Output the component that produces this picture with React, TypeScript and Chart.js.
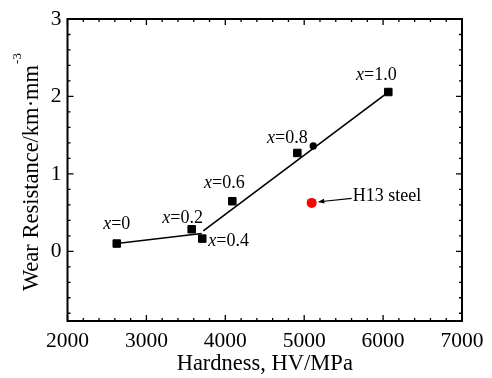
import React, { useEffect, useRef } from 'react';
import { Chart, registerables } from 'chart.js';

Chart.register(...registerables);

// ---- data ----
const compositionLabels = ['0', '0.2', '0.4', '0.6', '0.8', '1.0'];
const hardness = [2624, 3574, 3708, 4089, 4913, 6066];
const wearResistance = [0.1, 0.285, 0.164, 0.647, 1.27, 2.057];
const fitLowX = [2624, 3700];
const fitLowY = [0.1, 0.23];
const fitHighX = [3721, 6066];
const fitHighY = [0.263, 2.057];
const midPointX = [5115];
const midPointY = [1.36];
const h13X = [5095];
const h13Y = [0.625];
const h13Label = 'H13 steel';
const xTicks = [2000, 3000, 4000, 5000, 6000, 7000];
const yTicks = [0, 1, 2, 3];
const xTitle = 'Hardness, HV/MPa';
const yTitleMain = 'Wear Resistance/km\u00B7mm';
const yTitleSup = '-3';

const FONT = '"Liberation Serif", "Times New Roman", serif';

const toPts = (xs: number[], ys: number[]) => xs.map((x, i) => ({ x, y: ys[i] }));

// label placement (dx, dy of baseline relative to point, align)
const labelPlacement: { dx: number; dy: number; align: 'center' | 'left' }[] = [
  { dx: 0, dy: -15, align: 'center' },
  { dx: -9, dy: -6, align: 'center' },
  { dx: 6, dy: 7, align: 'left' },
  { dx: -8, dy: -13, align: 'center' },
  { dx: -10, dy: -10, align: 'center' },
  { dx: -12, dy: -12, align: 'center' },
];

const framePlugin = {
  id: 'frameTicks',
  beforeDatasetsDraw(chart: any) {
    const { ctx, chartArea: a, scales } = chart;
    const xs = scales.x;
    const ys = scales.y;
    ctx.save();
    ctx.strokeStyle = '#000';
    ctx.lineWidth = 1.3;
    for (let v = xs.min; v <= xs.max + 1e-6; v += 200) {
      const major = Math.abs(v / 1000 - Math.round(v / 1000)) < 1e-6;
      const len = major ? 6 : 3;
      const px = xs.getPixelForValue(v);
      ctx.beginPath();
      ctx.moveTo(px, a.bottom);
      ctx.lineTo(px, a.bottom - len);
      ctx.moveTo(px, a.top);
      ctx.lineTo(px, a.top + len);
      ctx.stroke();
    }
    for (let i = -4; i <= 15; i++) {
      const v = i * 0.2;
      if (v < ys.min - 1e-6 || v > ys.max + 1e-6) continue;
      const major = i % 5 === 0;
      const len = major ? 6 : 3;
      const py = ys.getPixelForValue(v);
      ctx.beginPath();
      ctx.moveTo(a.left, py);
      ctx.lineTo(a.left + len, py);
      ctx.moveTo(a.right, py);
      ctx.lineTo(a.right - len, py);
      ctx.stroke();
    }
    ctx.lineWidth = 2;
    ctx.strokeRect(a.left, a.top, a.right - a.left, a.bottom - a.top);

    // y title
    ctx.fillStyle = '#000';
    ctx.translate(38, 178);
    ctx.rotate(-Math.PI / 2);
    ctx.font = `22.5px ${FONT}`;
    const w1 = ctx.measureText(yTitleMain).width;
    const start = -w1 / 2;
    ctx.textBaseline = 'alphabetic';
    ctx.textAlign = 'left';
    ctx.fillText(yTitleMain, start, 0);
    ctx.font = `13px ${FONT}`;
    ctx.fillText(yTitleSup, start + w1 + 1, -17);
    ctx.restore();
  },
  afterDatasetsDraw(chart: any) {
    const { ctx, scales } = chart;
    const xs = scales.x;
    const ys = scales.y;
    ctx.save();
    ctx.fillStyle = '#000';
    ctx.textBaseline = 'alphabetic';
    ctx.textAlign = 'left';
    compositionLabels.forEach((lab, i) => {
      const px = xs.getPixelForValue(hardness[i]);
      const py = ys.getPixelForValue(wearResistance[i]);
      const p = labelPlacement[i];
      ctx.font = `italic 18px ${FONT}`;
      const wx = ctx.measureText('x').width;
      ctx.font = `18px ${FONT}`;
      const rest = '=' + lab;
      const wr = ctx.measureText(rest).width;
      const total = wx + wr;
      let x0 = px + p.dx;
      if (p.align === 'center') x0 -= total / 2;
      const y0 = py + p.dy;
      ctx.font = `italic 18px ${FONT}`;
      ctx.fillText('x', x0, y0);
      ctx.font = `18px ${FONT}`;
      ctx.fillText(rest, x0 + wx, y0);
    });

    // H13 annotation with arrow
    const hx = xs.getPixelForValue(h13X[0]);
    const hy = ys.getPixelForValue(h13Y[0]);
    const tipX = hx + 6;
    const tipY = hy - 1;
    const tailX = hx + 40;
    const tailY = hy - 4.5;
    ctx.strokeStyle = '#000';
    ctx.lineWidth = 1.2;
    ctx.beginPath();
    ctx.moveTo(tailX, tailY);
    ctx.lineTo(tipX + 4, tipY - 0.4);
    ctx.stroke();
    const ang = Math.atan2(tipY - tailY, tipX - tailX);
    ctx.beginPath();
    ctx.moveTo(tipX, tipY);
    ctx.lineTo(tipX - 7 * Math.cos(ang - 0.35), tipY - 7 * Math.sin(ang - 0.35));
    ctx.lineTo(tipX - 7 * Math.cos(ang + 0.35), tipY - 7 * Math.sin(ang + 0.35));
    ctx.closePath();
    ctx.fill();
    ctx.font = `18px ${FONT}`;
    ctx.fillText(h13Label, tailX + 1, hy - 1.5);
    ctx.restore();
  },
};

export default function App() {
  const ref = useRef<HTMLCanvasElement | null>(null);
  useEffect(() => {
    if (!ref.current) return;
    const chart = new Chart(ref.current, {
      type: 'scatter',
      data: {
        datasets: [
          {
            label: 'fit low',
            data: toPts(fitLowX, fitLowY),
            showLine: true,
            borderColor: '#000',
            borderWidth: 1.6,
            pointRadius: 0,
          },
          {
            label: 'fit high',
            data: toPts(fitHighX, fitHighY),
            showLine: true,
            borderColor: '#000',
            borderWidth: 1.6,
            pointRadius: 0,
          },
          {
            label: 'samples',
            data: toPts(hardness, wearResistance),
            pointStyle: 'rect',
            pointRadius: 5.3,
            backgroundColor: '#000',
            borderColor: '#000',
            borderWidth: 1,
          },
          {
            label: 'mid',
            data: toPts(midPointX, midPointY),
            pointStyle: 'circle',
            pointRadius: 3.7,
            backgroundColor: '#000',
            borderColor: '#000',
            borderWidth: 0,
          },
          {
            label: 'H13',
            data: toPts(h13X, h13Y),
            pointStyle: 'circle',
            pointRadius: 5,
            backgroundColor: '#ff0000',
            borderColor: '#ff0000',
            borderWidth: 0,
          },
        ],
      },
      options: {
        animation: false,
        responsive: true,
        maintainAspectRatio: false,
        layout: { padding: { top: 19, right: 30, left: 0, bottom: 0 } },
        plugins: { legend: { display: false }, tooltip: { enabled: false } },
        scales: {
          x: {
            type: 'linear',
            min: 2000,
            max: 7000,
            grid: { display: false, drawTicks: false },
            border: { display: false },
            afterBuildTicks: (s: any) => {
              s.ticks = xTicks.map((v) => ({ value: v }));
            },
            afterFit: (s: any) => {
              s.height = 57;
            },
            ticks: {
              color: '#000',
              padding: 7,
              font: { family: FONT, size: 21.5 },
              callback: (v: any) => String(v),
            },
            title: {
              display: true,
              text: xTitle,
              color: '#000',
              font: { family: FONT, size: 22.5 },
              padding: { top: 0, bottom: 0 },
            },
          },
          y: {
            type: 'linear',
            min: -0.9,
            max: 3,
            grid: { display: false, drawTicks: false },
            border: { display: false },
            afterBuildTicks: (s: any) => {
              s.ticks = yTicks.map((v) => ({ value: v }));
            },
            afterFit: (s: any) => {
              s.width = 67.5;
            },
            ticks: {
              color: '#000',
              padding: 6,
              font: { family: FONT, size: 21.5 },
              callback: (v: any) => String(v),
            },
          },
        },
      },
      plugins: [framePlugin],
    });
    return () => chart.destroy();
  }, []);
  return (
    <div style={{ position: 'fixed', left: 0, top: 0, width: 492, height: 378, background: '#fff' }}>
      <canvas ref={ref} />
    </div>
  );
}
